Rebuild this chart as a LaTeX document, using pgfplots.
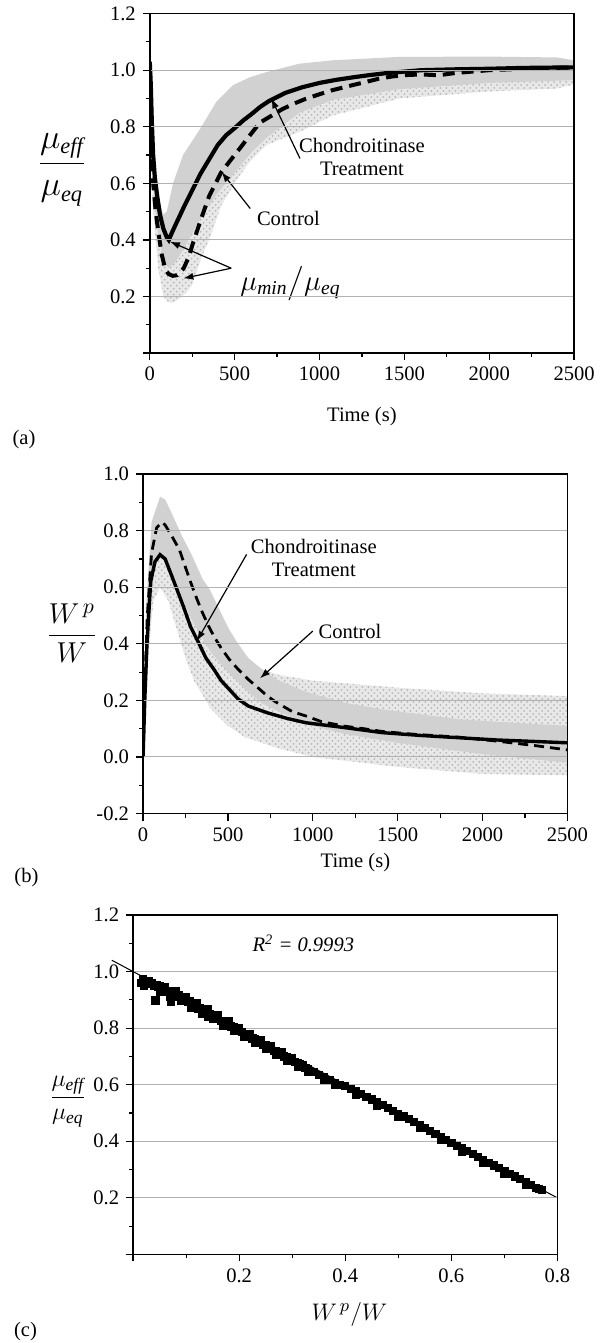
\documentclass[border=0pt]{standalone}
\usepackage{amsmath}
\usepackage{fontspec}
\setmainfont{Liberation Serif}
\usepackage{pgfplots}
\pgfplotsset{compat=1.18}
\usepgfplotslibrary{fillbetween}
\usetikzlibrary{arrows.meta,patterns}

\pgfplotsset{panel/.style={
  scale only axis, width=212.5pt, height=170pt,
  axis line style={line width=0.8pt},
  every tick/.style={black, line width=0.6pt},
  tick align=outside, tick pos=left,
  major tick length=3.5pt, minor tick length=2pt,
  ymajorgrids, major grid style={gray!60, line width=0.5pt},
  tick label style={font=\fontsize{10.3}{12}\selectfont},
  axis on top,
}}
\tikzset{
  lbl/.style={font=\fontsize{10.3}{11.5}\selectfont, align=center, inner sep=0pt},
  arr/.style={-{Latex[length=5pt,width=3.5pt]}, line width=0.6pt},
}

\begin{document}
\begin{tikzpicture}
\path (0,0) rectangle (300pt,-671.5pt);

% ---------------- (a) ----------------
\begin{axis}[panel, at={(75pt,-175.75pt)}, anchor=south west,
  xmin=0, xmax=2500, ymin=0, ymax=1.2,
  xtick={0,500,1000,1500,2000,2500}, xticklabels={0,500,1000,1500,2000,2500},
  ytick={0,0.2,0.4,0.6,0.8,1.0,1.2}, yticklabels={,0.2,0.4,0.6,0.8,1.0,1.2},
  minor x tick num=1, minor y tick num=1]
% control band (stipple)
\addplot[name path=acu, draw=none] coordinates {(0,1.05) (20,0.72) (50,0.52) (100,0.40) (150,0.38) (200,0.42) (250,0.48) (300,0.57) (420,0.74) (530,0.82) (650,0.89) (780,0.94) (920,0.98) (1080,1.01) (1430,1.035) (2000,1.04) (2500,1.035)};
\addplot[name path=acl, draw=none] coordinates {(0,1.0) (10,0.7) (20,0.5) (50,0.3) (80,0.2) (110,0.18) (135,0.178) (170,0.19) (210,0.21) (247,0.238) (300,0.33) (359,0.415) (420,0.52) (500,0.6) (588,0.676) (686,0.735) (882,0.782) (1078,0.84) (1470,0.90) (2000,0.925) (2400,0.935) (2500,0.95)};
\addplot[fill=black!9, draw=none] fill between[of=acu and acl];
\addplot[pattern=crosshatch dots, pattern color=black!28, draw=none] fill between[of=acu and acl];
% treatment band (solid gray)
\addplot[name path=atu, draw=none] coordinates {(0,1.06) (10,0.9) (25,0.7) (50,0.55) (80,0.49) (100,0.5) (137,0.6) (196,0.70) (294,0.79) (392,0.888) (490,0.947) (590,0.975) (686,0.993) (882,1.023) (1078,1.035) (1470,1.047) (2000,1.048) (2400,1.045) (2500,1.035)};
\addplot[name path=atl, draw=none] coordinates {(0,1.0) (10,0.75) (25,0.55) (50,0.42) (80,0.33) (110,0.30) (150,0.32) (200,0.37) (294,0.47) (392,0.56) (490,0.63) (600,0.71) (686,0.76) (882,0.85) (1078,0.895) (1470,0.933) (2000,0.955) (2500,0.965)};
\addplot[fill=black!18, draw=none] fill between[of=atu and atl];
% control curve (dashed)
\addplot[black, line width=2pt, dash pattern=on 6pt off 3.5pt] coordinates {(0,1.02) (10,0.8) (20,0.6) (35,0.5) (50,0.43) (70,0.35) (90,0.3) (110,0.28) (135,0.273) (160,0.275) (200,0.30) (230,0.34) (250,0.38) (300,0.47) (350,0.555) (420,0.638) (480,0.685) (530,0.723) (590,0.77) (650,0.815) (720,0.84) (780,0.862) (850,0.882) (920,0.899) (1000,0.915) (1080,0.93) (1180,0.945) (1270,0.958) (1350,0.97) (1430,0.978) (1520,0.983) (1600,0.985) (1700,0.982) (1800,0.99) (1900,0.995) (2000,1.0) (2200,1.005) (2500,1.01)};
% treatment curve (solid)
\addplot[black, line width=2.1pt] coordinates {(0,1.03) (6,0.95) (12,0.82) (20,0.70) (30,0.62) (45,0.55) (60,0.49) (80,0.44) (100,0.41) (112,0.40) (130,0.425) (157,0.46) (200,0.515) (250,0.575) (300,0.635) (350,0.685) (400,0.735) (450,0.77) (500,0.795) (550,0.822) (600,0.845) (650,0.87) (700,0.89) (800,0.92) (900,0.94) (1000,0.955) (1100,0.966) (1200,0.975) (1300,0.983) (1400,0.99) (1500,0.995) (1600,1.0) (1800,1.003) (2000,1.005) (2200,1.008) (2500,1.01)};
% annotations
\node[lbl] at (1250,0.694) {Chondroitinase\\Treatment};
\draw[arr] (885,0.688) -- (716,0.9);
\node[lbl] at (817,0.476) {Control};
\draw[arr] (592,0.511) -- (423,0.64);
\node[font=\fontsize{14}{17}\selectfont, inner sep=0pt] at (829,0.246) {$\mu_{\mathit{min}}\big/\mu_{\mathit{eq}}$};
\draw[arr] (480,0.30) -- (119,0.394);
\draw[arr] (480,0.30) -- (198,0.264);
\end{axis}
\node[lbl] at (181.25pt,-207.5pt) {Time (s)};
\node[lbl] at (12pt,-219pt) {(a)};
\node[font=\fontsize{16}{19}\selectfont, inner sep=0pt] at (31pt,-84pt) {$\dfrac{\mu_{\mathit{eff}}}{\mu_{\mathit{eq}}}$};

% ---------------- (b) ----------------
\begin{axis}[panel, at={(71.65pt,-406.35pt)}, anchor=south west,
  xmin=0, xmax=2500, ymin=-0.2, ymax=1.0,
  xtick={0,500,1000,1500,2000,2500}, xticklabels={0,500,1000,1500,2000,2500},
  ytick={-0.2,0,0.2,0.4,0.6,0.8,1.0}, yticklabels={-0.2,0.0,0.2,0.4,0.6,0.8,1.0},
  minor x tick num=1, minor y tick num=1]
% treatment band (stipple)
\addplot[name path=btu, draw=none] coordinates {(0,0) (30,0.55) (60,0.75) (100,0.8) (150,0.75) (200,0.66) (300,0.53) (400,0.44) (500,0.38) (600,0.34) (700,0.31) (800,0.29) (1000,0.27) (1500,0.245) (2000,0.225) (2500,0.215)};
\addplot[name path=btl, draw=none] coordinates {(0,0) (30,0.35) (60,0.55) (100,0.6) (150,0.55) (200,0.45) (250,0.35) (300,0.27) (400,0.17) (500,0.11) (600,0.07) (800,0.03) (1000,0.0) (1500,-0.035) (2000,-0.06) (2500,-0.065)};
\addplot[fill=black!9, draw=none] fill between[of=btu and btl];
\addplot[pattern=crosshatch dots, pattern color=black!28, draw=none] fill between[of=btu and btl];
% control band (solid gray)
\addplot[name path=bcu, draw=none] coordinates {(0,0) (20,0.55) (50,0.83) (100,0.92) (130,0.91) (170,0.86) (230,0.78) (282,0.72) (350,0.63) (395,0.59) (450,0.52) (508,0.45) (560,0.40) (620,0.35) (700,0.31) (800,0.27) (959,0.23) (1200,0.19) (1410,0.168) (1861,0.133) (2200,0.12) (2500,0.11)};
\addplot[name path=bcl, draw=none] coordinates {(0,0) (30,0.45) (60,0.65) (100,0.72) (150,0.68) (200,0.6) (300,0.47) (400,0.37) (500,0.3) (600,0.24) (700,0.19) (800,0.16) (1000,0.11) (1200,0.08) (1500,0.05) (2000,0.01) (2500,-0.02)};
\addplot[fill=black!18, draw=none] fill between[of=bcu and bcl];
% control curve (dashed)
\addplot[black, line width=1.4pt, dash pattern=on 5pt off 3pt] coordinates {(0,0) (10,0.25) (25,0.5) (50,0.72) (80,0.81) (110,0.83) (130,0.82) (170,0.78) (214,0.733) (250,0.67) (282,0.615) (316,0.56) (350,0.51) (384,0.465) (417,0.427) (460,0.385) (508,0.345) (560,0.31) (620,0.274) (680,0.243) (733,0.215) (780,0.195) (823,0.18) (880,0.16) (959,0.145) (1050,0.125) (1185,0.109) (1300,0.1) (1410,0.09) (1600,0.08) (1861,0.07) (2100,0.055) (2312,0.04) (2500,0.025)};
% treatment curve (solid)
\addplot[black, line width=1.7pt] coordinates {(0,0) (10,0.2) (23,0.4) (45,0.62) (70,0.69) (100,0.715) (130,0.7) (169,0.64) (237,0.533) (280,0.46) (327,0.404) (370,0.35) (417,0.31) (460,0.27) (508,0.239) (560,0.205) (620,0.18) (733,0.156) (850,0.136) (959,0.121) (1185,0.104) (1410,0.086) (1636,0.076) (1861,0.068) (2087,0.06) (2300,0.055) (2500,0.05)};
\node[lbl] at (1006,0.704) {Chondroitinase\\Treatment};
\draw[arr] (610,0.716) -- (317,0.41);
\node[lbl] at (1219,0.445) {Control};
\draw[arr] (1000,0.445) -- (689,0.278);
\end{axis}
\node[lbl] at (178pt,-430.85pt) {Time (s)};
\node[lbl] at (13.25pt,-438.35pt) {(b)};
\node[font=\fontsize{15}{18}\selectfont, inner sep=0pt] at (36pt,-316pt) {$\dfrac{W^{\,p}}{W}$};

% ---------------- (c) ----------------
\begin{axis}[panel, at={(66.65pt,-627.15pt)}, anchor=south west, clip=false,
  xmin=0, xmax=0.8, ymin=0, ymax=1.2,
  xtick={0,0.2,0.4,0.6,0.8}, xticklabels={,0.2,0.4,0.6,0.8},
  ytick={0,0.2,0.4,0.6,0.8,1.0,1.2}, yticklabels={,0.2,0.4,0.6,0.8,1.0,1.2},
  minor x tick num=1, minor y tick num=1]
\addplot[black, line width=0.5pt] coordinates {(-0.04,1.04) (0.8,0.2)};
\addplot[only marks, mark=square*, mark size=1.8pt, black] coordinates {
(0.015,0.960) (0.018,0.972) (0.020,0.950) (0.022,0.968) (0.025,0.962) (0.028,0.958) (0.030,0.965) (0.033,0.955) (0.036,0.958) (0.040,0.950) (0.042,0.898) (0.044,0.952) (0.047,0.945) (0.050,0.948) (0.053,0.940) (0.056,0.943) (0.060,0.935) (0.063,0.930) (0.066,0.933) (0.070,0.925) (0.072,0.892) (0.074,0.928) (0.077,0.918) (0.080,0.922) (0.083,0.912) (0.086,0.916) (0.090,0.908) (0.093,0.905) (0.096,0.898) (0.100,0.902) (0.103,0.893) (0.106,0.895) (0.110,0.886) (0.113,0.888) (0.116,0.878) (0.120,0.880) (0.123,0.870) (0.126,0.873) (0.130,0.862) (0.133,0.866) (0.136,0.856) (0.140,0.858) (0.142,0.840) (0.145,0.850) (0.150,0.846) (0.155,0.838) (0.160,0.835) (0.165,0.826) (0.170,0.824) (0.175,0.815) (0.180,0.815) (0.185,0.806) (0.190,0.804) (0.195,0.795) (0.200,0.793) (0.205,0.786) (0.210,0.780) (0.213,0.772) (0.220,0.771) (0.225,0.764) (0.230,0.760) (0.235,0.752) (0.240,0.750) (0.245,0.742) (0.250,0.740) (0.255,0.732) (0.260,0.728) (0.265,0.720) (0.270,0.718) (0.275,0.712) (0.280,0.707) (0.285,0.700) (0.290,0.697) (0.295,0.690) (0.300,0.686) (0.305,0.680) (0.310,0.676) (0.315,0.672) (0.320,0.668) (0.325,0.660) (0.330,0.655) (0.340,0.645) (0.350,0.636) (0.360,0.626) (0.370,0.616) (0.380,0.607) (0.390,0.600) (0.400,0.595) (0.410,0.585) (0.420,0.577) (0.430,0.567) (0.440,0.557) (0.450,0.548) (0.460,0.538) (0.470,0.528) (0.480,0.518) (0.490,0.508) (0.500,0.498) (0.510,0.488) (0.520,0.478) (0.530,0.468) (0.540,0.458) (0.550,0.448) (0.560,0.437) (0.570,0.427) (0.580,0.416) (0.590,0.405) (0.600,0.395) (0.610,0.385) (0.620,0.375) (0.630,0.365) (0.640,0.355) (0.650,0.345) (0.660,0.335) (0.670,0.325) (0.680,0.315) (0.690,0.305) (0.700,0.296) (0.710,0.286) (0.720,0.276) (0.730,0.266) (0.740,0.256) (0.750,0.246) (0.760,0.236) (0.765,0.231) (0.770,0.228)
(0.05,0.930) (0.07,0.912) (0.09,0.895) (0.11,0.873) (0.13,0.850) (0.15,0.833) (0.17,0.810) (0.19,0.790) (0.21,0.770) (0.23,0.748) (0.25,0.727) (0.27,0.706) (0.29,0.684) (0.31,0.665) (0.33,0.645)
(0.06,0.945) (0.08,0.930) (0.10,0.910) (0.12,0.890) (0.14,0.868) (0.16,0.845) (0.18,0.824) (0.20,0.802) (0.22,0.780) (0.24,0.758) (0.26,0.737) (0.28,0.715) (0.30,0.694)
(0.36,0.617) (0.38,0.598) (0.42,0.566) (0.46,0.527) (0.50,0.487) (0.54,0.447) (0.58,0.405) (0.62,0.364) (0.66,0.324) (0.70,0.285) (0.74,0.246)};
\node[lbl, font=\fontsize{10.3}{12}\selectfont\itshape] at (0.321,1.099) {R\textsuperscript{2} = 0.9993};
\end{axis}
\node[font=\fontsize{12.5}{15}\selectfont, inner sep=0pt] at (175pt,-657pt) {$W^{\,p}/W$};
\node[lbl] at (12.75pt,-666pt) {(c)};
\node[font=\fontsize{12.5}{15}\selectfont, inner sep=0pt] at (34pt,-550.5pt) {$\dfrac{\mu_{\mathit{eff}}}{\mu_{\mathit{eq}}}$};
\end{tikzpicture}
\end{document}
